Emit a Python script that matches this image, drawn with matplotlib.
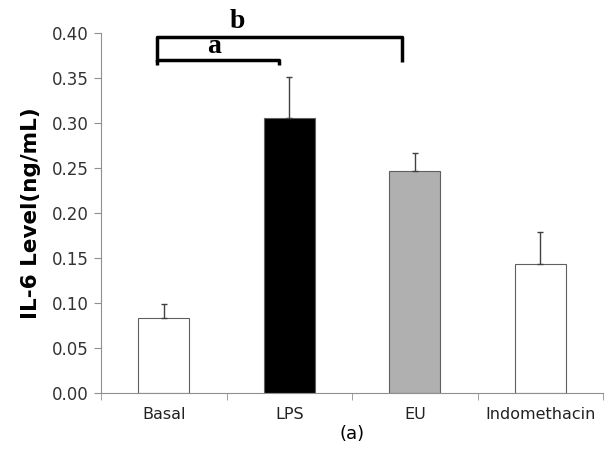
import numpy as np
import matplotlib.pyplot as plt
from matplotlib.ticker import FixedLocator

#
# data
#
categories = ['Basal', 'LPS', 'EU', 'Indomethacin']
il6_level = [0.083, 0.305, 0.247, 0.143]
il6_err = [0.016, 0.046, 0.020, 0.036]
bar_colors = ['white', 'black', '#b0b0b0', 'white']

fig = plt.figure(figsize=(6.08, 4.5), dpi=100)
ax = fig.add_axes([101 / 608, 57 / 450, 502 / 608, 360 / 450])

x = np.arange(len(categories))
ax.bar(x, il6_level, width=0.41, color=bar_colors, edgecolor='#606060', linewidth=0.8, zorder=2)
ax.errorbar(x, il6_level, yerr=[np.zeros(len(x)), il6_err], fmt='none',
            ecolor='#404040', elinewidth=1.0, capsize=2.5, capthick=1.0, zorder=3)

ax.set_xlim(-0.5, len(categories) - 0.5)
ax.set_ylim(0, 0.40)
ax.set_yticks(np.arange(0, 0.41, 0.05))
ax.set_yticklabels([f'{v:.2f}' for v in np.arange(0, 0.41, 0.05)], fontsize=12, color='#333333')
ax.set_xticks(x)
ax.set_xticklabels(categories, fontsize=11.5, color='#222222')
ax.tick_params(axis='x', which='major', length=0, pad=10)
ax.xaxis.set_minor_locator(FixedLocator(np.arange(-0.5, len(categories), 1.0)))
ax.tick_params(axis='x', which='minor', length=5, color='#909090')
ax.tick_params(axis='y', length=5, color='#909090', pad=4)

for s in ['top', 'right']:
    ax.spines[s].set_visible(False)
for s in ['left', 'bottom']:
    ax.spines[s].set_color('#909090')
    ax.spines[s].set_linewidth(0.8)

ax.set_ylabel('IL-6 Level(ng/mL)', fontsize=15.5, fontweight='bold', labelpad=8)
ax.set_xlabel('(a)', fontsize=13, labelpad=2)

#
# significance brackets
#
ax.plot([-0.056, -0.056, 0.916, 0.916], [0.364, 0.370, 0.370, 0.364],
        color='black', lw=2.5, clip_on=False, solid_capstyle='butt')
ax.plot([-0.056, -0.056, 1.90, 1.90], [0.368, 0.396, 0.396, 0.368],
        color='black', lw=2.5, clip_on=False, solid_capstyle='butt')
ax.text(0.40, 0.371, 'a', fontsize=20, fontweight='bold', family='Liberation Serif',
        ha='center', va='bottom')
ax.text(0.59, 0.399, 'b', fontsize=20, fontweight='bold', family='Liberation Serif',
        ha='center', va='bottom', clip_on=False)

fig.savefig('out.png', dpi=100)
